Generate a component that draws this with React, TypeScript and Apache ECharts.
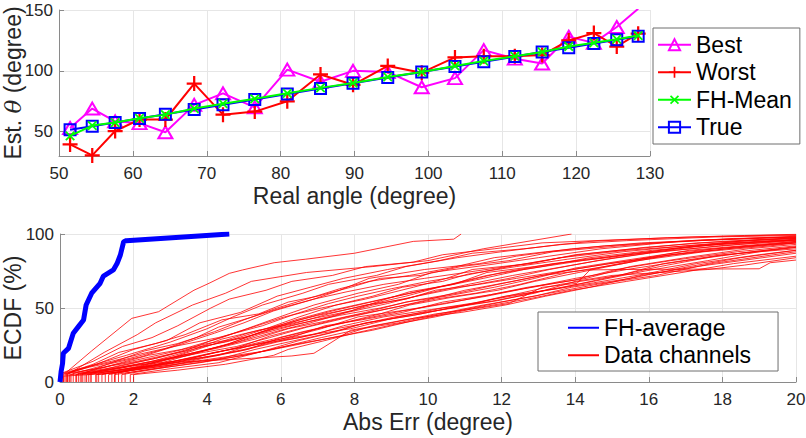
import React, { useEffect, useRef } from "react";
import * as echarts from "echarts";

// ---------- Top panel data ----------
const realAngle = [51.5, 54.5, 57.6, 60.9, 64.4, 68.3, 72.2, 76.5, 80.9, 85.4, 89.8, 94.5, 99.1, 103.6, 107.5, 111.7, 115.4, 119.0, 122.4, 125.5, 128.4];
const bestEst = [53, 69, 58.5, 57, 49.5, 72, 81.5, 70, 101, 91, 100, 99, 86.5, 94, 117, 110, 106, 128, 123, 136, 151];
const worstEst = [39.5, 30.5, 50.5, 60, 60, 89.5, 64, 66.5, 75, 97, 88.5, 104, 98.5, 111, 112, 112, 113, 125, 131, 120, 130.5];
const fhMeanEst = [46.5, 55, 57.5, 61, 64, 69, 73, 77, 81.5, 86, 90, 95, 99, 104, 108, 112, 115.5, 120, 123, 126, 129];
const trueAngle = [51.5, 54.5, 57.6, 60.9, 64.4, 68.3, 72.2, 76.5, 80.9, 85.4, 89.8, 94.5, 99.1, 103.6, 107.5, 111.7, 115.4, 119.0, 122.4, 125.5, 128.4];
const topYTicks = [50, 100, 150];

// ---------- Bottom panel data ----------
const fhAverageEcdf = [
  [0, 0], [0.03, 7], [0.07, 12.6], [0.09, 19.4], [0.23, 22.7], [0.36, 32.9], [0.5, 37.4], [0.64, 41.9],
  [0.71, 52], [0.86, 60], [1.09, 66.7], [1.18, 71.6], [1.45, 75.7], [1.55, 80], [1.64, 85.8], [1.73, 94.8],
  [1.8, 95.5], [4.6, 100],
];

const channelEcdfs = [
  [[0.1, 0], [0.1, 5], [0.86, 21], [1.95, 43], [2.68, 47.5], [3.64, 62], [4.05, 66.7], [4.6, 73.4], [4.96, 75.7], [5.82, 80.6], [6.68, 83], [8, 87], [8.8, 91], [9.6, 95], [10.7, 96.5], [10.9, 100]],
  [[0.2, 0], [0.2, 5], [1.2, 20], [2.1, 32], [2.6, 40], [3.6, 52], [4.5, 60], [5.2, 68], [6.7, 74], [8.5, 78], [10, 82], [11.5, 90], [13.9, 100]],
  [[0.05, 0], [0.05, 6], [0.9, 14], [1.7, 24], [2.5, 30], [3.2, 38], [4.1, 50], [4.6, 56], [5.6, 62], [6.3, 68], [7.4, 72], [8.3, 78], [9.6, 81], [10.4, 86], [11.8, 90], [13.1, 94], [15.0, 96], [17.2, 98], [20, 99.5]],
  [[0.14, 0], [0.14, 5], [1.0, 12], [2.0, 22], [2.9, 28], [3.8, 40], [4.9, 47], [5.9, 58], [6.8, 64], [7.7, 70], [8.9, 76], [10.3, 82], [11.2, 87], [12.6, 90], [14.4, 95], [16.5, 97.5], [18.6, 99], [20, 99.8]],
  [[0.21, 0], [0.21, 6], [1.1, 13], [1.8, 18], [3.0, 27], [4.0, 36], [4.7, 44], [5.5, 52], [6.6, 60], [7.3, 66], [8.6, 72], [9.4, 78], [10.8, 84], [12.0, 88], [13.6, 93], [15.4, 95.5], [17.8, 98], [20, 99]],
  [[0.27, 0], [0.27, 5], [1.3, 12], [2.2, 17], [3.1, 24], [4.2, 33], [5.0, 40], [5.8, 48], [6.9, 56], [7.6, 62], [8.4, 70], [9.9, 76], [11.4, 80], [12.4, 85], [13.9, 90], [15.8, 94], [17.7, 96], [20, 98.5]],
  [[0.36, 0], [0.36, 6], [1.2, 10], [2.4, 18], [3.3, 22], [4.4, 30], [5.3, 38], [6.2, 46], [6.9, 52], [8.1, 60], [9.2, 66], [10.1, 74], [11.6, 79], [13.0, 84], [14.7, 90], [16.4, 94], [18.3, 97], [20, 98]],
  [[0.43, 0], [0.43, 5], [1.4, 11], [2.1, 14], [3.4, 21], [4.1, 28], [5.1, 36], [6.1, 44], [7.1, 50], [8.3, 56], [9.6, 64], [10.5, 70], [11.2, 76], [12.8, 80], [14.0, 86], [15.6, 90], [17.3, 94], [19.1, 96], [20, 97.5]],
  [[0.5, 0], [0.5, 6], [1.5, 10], [2.6, 16], [3.6, 23], [4.5, 27], [5.6, 34], [6.5, 42], [7.4, 48], [8.8, 56], [9.9, 62], [11.0, 68], [12.0, 74], [13.4, 80], [14.9, 84], [16.9, 91], [18.4, 95], [20, 97]],
  [[0.59, 0], [0.59, 5], [1.6, 9], [2.3, 13], [3.5, 19], [4.7, 26], [5.4, 32], [6.3, 38], [7.6, 46], [8.5, 52], [9.7, 58], [10.9, 64], [12.2, 70], [13.3, 76], [14.6, 82], [16.0, 87], [17.9, 92], [20, 96]],
  [[0.68, 0], [0.68, 6], [1.7, 10], [2.8, 15], [3.9, 20], [4.8, 24], [5.7, 30], [6.7, 37], [7.9, 44], [9.0, 50], [10.2, 56], [11.3, 60], [12.5, 66], [13.8, 74], [15.3, 80], [16.6, 86], [18.9, 92], [20, 95]],
  [[0.77, 0], [0.77, 5], [1.8, 9], [2.7, 12], [3.7, 17], [4.6, 22], [5.8, 29], [6.6, 34], [7.7, 40], [8.7, 46], [9.5, 52], [10.6, 57], [11.9, 62], [12.9, 68], [14.1, 74], [15.7, 82], [17.5, 88], [19.3, 92], [20, 94]],
  [[0.85, 0], [0.85, 6], [1.9, 11], [3.1, 14], [4.3, 18], [5.2, 25], [6.4, 31], [7.2, 38], [8.2, 42], [9.3, 47], [10.4, 54], [11.7, 59], [12.7, 64], [14.3, 70], [15.5, 78], [17.0, 84], [18.7, 90], [20, 93]],
  [[0.97, 0], [0.97, 5], [2.0, 8], [3.2, 12], [4.4, 16], [5.3, 22], [6.2, 27], [7.3, 33], [8.0, 38], [9.1, 44], [10.7, 50], [11.8, 56], [13.2, 62], [14.5, 68], [15.9, 75], [17.6, 82], [19.0, 88], [20, 91]],
  [[1.05, 0], [1.05, 6], [2.1, 10], [3.0, 16], [4.0, 22], [5.0, 28], [6.0, 35], [6.8, 40], [7.8, 47], [8.9, 53], [10.0, 60], [11.1, 66], [12.3, 72], [13.7, 78], [15.1, 84], [16.8, 90], [18.2, 94], [20, 96.5]],
  [[1.14, 0], [1.14, 5], [2.0, 9], [3.3, 14], [4.2, 20], [5.5, 26], [6.5, 30], [7.5, 36], [8.6, 41], [9.8, 46], [11.0, 52], [12.1, 58], [13.5, 63], [14.8, 70], [16.3, 78], [17.8, 85], [19.5, 90], [20, 91.5]],
  [[1.23, 0], [1.23, 6], [2.2, 11], [3.1, 17], [4.1, 25], [5.1, 33], [5.9, 38], [7.0, 45], [8.0, 50], [9.4, 58], [10.3, 64], [11.5, 70], [12.6, 76], [14.2, 82], [15.6, 87], [17.4, 92], [19.2, 95], [20, 96]],
  [[1.32, 0], [1.32, 5], [2.4, 10], [3.5, 15], [4.9, 21], [5.9, 27], [6.9, 32], [7.7, 38], [8.8, 44], [10.1, 49], [11.4, 54], [12.5, 60], [13.6, 66], [15.2, 72], [16.4, 80], [18.0, 86], [20, 90]],
  [[1.41, 0], [1.41, 6], [2.5, 11], [3.6, 19], [4.6, 26], [5.6, 35], [6.4, 42], [7.3, 48], [8.4, 54], [9.5, 60], [10.6, 66], [11.6, 72], [13.1, 78], [14.4, 84], [16.1, 89], [17.9, 93], [20, 96]],
  [[1.48, 0], [1.48, 5], [2.6, 9], [3.8, 13], [5.0, 18], [6.1, 24], [7.1, 30], [8.2, 36], [9.2, 40], [10.3, 46], [11.5, 52], [12.9, 58], [13.9, 64], [15.5, 70], [17.1, 78], [18.5, 84], [20, 89]],
  [[1.59, 0], [1.59, 6], [2.7, 12], [3.9, 18], [4.8, 23], [5.7, 31], [6.8, 38], [7.8, 44], [9.0, 50], [9.9, 55], [11.0, 62], [12.3, 68], [13.5, 74], [14.9, 80], [16.7, 86], [18.1, 90], [20, 94]],
  [[1.68, 0], [1.68, 5], [2.9, 10], [4.0, 14], [5.2, 19], [6.3, 25], [7.4, 30], [8.5, 35], [9.7, 42], [10.8, 48], [12.0, 54], [13.3, 60], [14.6, 66], [16.2, 72], [17.7, 80], [19.4, 86], [20, 88]],
  [[1.77, 0], [1.77, 6], [2.8, 10], [3.9, 16], [5.1, 22], [6.0, 30], [7.0, 36], [8.1, 42], [9.3, 48], [10.5, 53], [11.7, 59], [12.8, 64], [14.0, 70], [15.4, 76], [17.0, 82], [18.8, 88], [20, 91]],
  [[1.91, 0], [1.91, 5], [3.0, 9], [4.3, 13], [5.4, 20], [6.5, 28], [7.5, 34], [8.3, 40], [9.6, 45], [10.6, 50], [11.9, 55], [13.0, 61], [14.5, 67], [15.9, 73], [17.3, 80], [19.0, 86], [20, 89]],
  [[2.0, 0], [2.0, 5], [3.2, 8], [4.5, 12], [5.8, 18], [6.2, 22], [7.2, 28], [8.0, 33], [9.1, 39], [10.2, 44], [11.3, 50], [12.7, 56], [13.9, 62], [15.4, 68], [16.9, 74], [18.3, 80], [20, 85]],
  [[0.1, 0], [0.1, 4], [1.5, 6], [3.3, 13.5], [5.2, 16], [6.3, 17.6], [6.9, 19.4], [7.2, 24], [7.9, 35], [9.0, 40], [10.2, 46], [11.4, 50], [12.2, 53], [13.1, 64], [14.05, 66.7], [14.4, 75.7], [15.2, 76], [19.0, 76.5], [19.3, 80.6], [20, 82.4]],
  [[0.3, 0], [0.3, 5], [1.7, 8], [3.4, 14], [5.0, 22], [6.3, 30], [7.9, 36], [9.2, 44], [10.4, 50], [11.6, 54], [12.9, 60], [14.0, 68], [15.0, 72], [16.3, 74], [17.6, 76], [18.6, 79], [20, 84]],
  [[0.18, 0], [0.18, 6], [0.9, 12], [1.6, 20], [2.6, 26], [3.4, 32], [4.4, 42], [5.4, 46], [6.2, 54], [7.0, 58], [7.9, 64], [8.7, 70], [9.8, 72], [10.9, 78], [12.2, 82], [13.4, 88], [15.2, 92], [17.4, 96], [20, 98]],
  [[0.04, 0], [0.04, 5], [0.8, 10], [1.9, 16], [2.8, 22], [3.7, 30], [4.3, 37], [5.1, 43], [6.0, 50], [6.9, 56], [7.8, 61], [8.8, 66], [9.9, 70], [11.3, 75], [12.7, 80], [14.1, 86], [15.9, 91], [18.0, 95], [20, 97.5]],
  [[0.25, 0], [0.25, 6], [1.0, 9], [2.1, 15], [3.0, 20], [4.0, 26], [5.0, 30], [6.0, 38], [6.9, 43], [7.9, 48], [8.6, 54], [9.5, 61], [10.7, 66], [11.6, 74], [12.9, 78], [14.3, 83], [16.2, 88], [18.5, 93], [20, 95.5]],
  [[0.45, 0], [0.45, 5], [1.3, 8], [2.3, 12], [3.5, 18], [4.5, 25], [5.5, 34], [6.6, 40], [7.6, 45], [8.7, 50], [9.6, 55], [10.8, 60], [12.1, 67], [13.1, 72], [14.4, 76], [16.0, 84], [17.8, 90], [20, 94.5]],
  [[0.62, 0], [0.62, 6], [1.4, 9], [2.5, 14], [3.4, 20], [4.4, 29], [5.4, 35], [6.3, 39], [7.3, 46], [8.3, 52], [9.4, 56], [10.2, 62], [11.4, 66], [12.4, 70], [13.9, 76], [15.5, 82], [17.1, 89], [19.0, 93], [20, 95]],
  [[0.72, 0], [0.72, 5], [1.9, 9], [2.9, 13], [4.0, 19], [5.1, 24], [6.0, 29], [7.1, 36], [8.1, 44], [9.5, 49], [10.4, 53], [11.6, 58], [12.6, 63], [14.0, 69], [15.1, 76], [16.6, 82], [18.4, 88], [20, 92]],
  [[0.82, 0], [0.82, 6], [1.6, 11], [2.6, 16], [3.6, 22], [4.6, 28], [5.6, 36], [6.5, 44], [7.5, 52], [8.5, 58], [9.3, 64], [10.4, 68], [11.1, 73], [12.4, 78], [13.8, 83], [15.3, 88], [17.0, 92], [18.9, 96], [20, 97]],
  [[1.0, 0], [1.0, 5], [2.3, 9], [3.4, 13], [4.5, 17], [5.6, 21], [6.6, 26], [7.6, 31], [8.5, 38], [9.6, 43], [10.9, 47], [12.1, 52], [13.2, 58], [14.4, 64], [15.8, 72], [17.3, 78], [19.1, 84], [20, 87]],
  [[1.5, 0], [1.5, 6], [2.5, 12], [3.3, 18], [4.3, 23], [5.3, 29], [6.2, 36], [7.2, 41], [8.3, 47], [9.4, 54], [10.5, 58], [11.8, 64], [12.9, 70], [14.0, 77], [15.3, 82], [16.9, 88], [18.7, 92], [20, 94]],
  [[0.55, 0], [0.55, 5], [1.4, 13], [2.3, 21], [3.2, 26], [4.2, 34], [5.0, 42], [5.9, 50], [6.7, 56], [7.6, 63], [8.4, 68], [9.5, 72], [10.6, 77], [11.8, 84], [13.2, 88], [14.8, 92], [16.8, 95], [19.0, 97], [20, 98]],
  [[0.08, 0], [0.08, 6], [0.7, 10], [1.4, 14], [2.2, 19], [3.1, 24], [4.3, 30], [5.5, 38], [6.4, 46], [7.3, 53], [8.1, 58], [9.0, 63], [10.0, 68], [11.0, 72], [12.2, 78], [13.6, 84], [15.4, 89], [17.6, 93], [20, 96]],
];

const FONT = "'Liberation Sans', Arial, Helvetica, sans-serif";
const AXIS_GRAY = "#8a8a8a";
const GRID_GRAY = "#e6e6e6";
const TXT = "#262626";

const plusPath = "path://M4.25,0 L5.75,0 L5.75,4.25 L10,4.25 L10,5.75 L5.75,5.75 L5.75,10 L4.25,10 L4.25,5.75 L0,5.75 L0,4.25 L4.25,4.25 Z";

function axisCommon() {
  return {
    axisLine: { show: true, lineStyle: { color: AXIS_GRAY, width: 1 } },
    axisTick: { show: true, inside: true, length: 5, lineStyle: { color: AXIS_GRAY } },
    axisLabel: { color: TXT, fontSize: 17, fontFamily: FONT },
    splitLine: { show: true, lineStyle: { color: GRID_GRAY, width: 1 } },
    nameTextStyle: { color: TXT, fontSize: 23, fontFamily: FONT },
  };
}

export default function App() {
  const ref = useRef<HTMLDivElement>(null);

  useEffect(() => {
    if (!ref.current) return;
    const chart = echarts.init(ref.current, undefined, { renderer: "svg" });

    const topX = realAngle;
    const pairs = (ys: number[]) => ys.map((y, i) => [topX[i], y]);

    const channelSeries = channelEcdfs.map((c) => ({
      name: "Data channels",
      type: "line",
      xAxisIndex: 1,
      yAxisIndex: 1,
      data: c,
      symbol: "none",
      silent: true,
      clip: true,
      color: "#ff0000",
      lineStyle: { color: "#ff0000", width: 0.8 },
      z: 2,
    }));

    const option: any = {
      animation: false,
      backgroundColor: "#ffffff",
      textStyle: { fontFamily: FONT },
      grid: [
        { left: 59, right: 156, top: 10, bottom: 282, containLabel: false, outerBoundsMode: "none" },
        { left: 60, right: 10, top: 234, bottom: 56, containLabel: false, outerBoundsMode: "none" },
      ],
      xAxis: [
        {
          ...axisCommon(),
          gridIndex: 0,
          type: "value",
          min: 50,
          max: 130,
          interval: 10,
          name: "Real angle (degree)",
          nameLocation: "middle",
          nameGap: 28,
          axisLabel: { color: TXT, fontSize: 17, fontFamily: FONT, margin: 9 },
        },
        {
          ...axisCommon(),
          gridIndex: 1,
          type: "value",
          min: 0,
          max: 20,
          interval: 2,
          name: "Abs Err (degree)",
          nameLocation: "middle",
          nameGap: 28,
          axisLabel: { color: TXT, fontSize: 17, fontFamily: FONT, margin: 9 },
        },
      ],
      yAxis: [
        {
          ...axisCommon(),
          gridIndex: 0,
          type: "value",
          min: 30,
          max: 150,
          axisTick: { show: true, inside: true, length: 5, lineStyle: { color: AXIS_GRAY }, customValues: topYTicks },
          axisLabel: { color: TXT, fontSize: 17, fontFamily: FONT, margin: 6, customValues: topYTicks },
          name: "{a|Est. }{b|θ}{a| (degree)}",
          nameLocation: "middle",
          nameGap: 35,
          nameRotate: 90,
          nameMoveOverlap: false,
          nameTextStyle: {
            color: TXT,
            fontSize: 23,
            fontFamily: FONT,
            rich: {
              a: { color: TXT, fontSize: 23, fontFamily: FONT },
              b: { color: TXT, fontSize: 23, fontFamily: "'DejaVu Serif', serif", fontStyle: "italic" },
            },
          },
        },
        {
          ...axisCommon(),
          gridIndex: 1,
          type: "value",
          min: 0,
          max: 100,
          interval: 50,
          name: "ECDF (%)",
          nameLocation: "middle",
          nameGap: 36,
          nameRotate: 90,
          nameMoveOverlap: false,
          axisLabel: { color: TXT, fontSize: 17, fontFamily: FONT, margin: 6 },
        },
      ],
      legend: [
        {
          data: ["Best", "Worst", "FH-Mean", "True"],
          orient: "vertical",
          left: 653,
          top: 28,
          padding: [3, 8, 3, 4],
          itemGap: 0,
          itemWidth: 33,
          itemHeight: 14,
          backgroundColor: "#ffffff",
          borderColor: "#6e6e6e",
          borderWidth: 1,
          selectedMode: false,
          textStyle: { color: "#000", fontSize: 23, fontFamily: FONT, lineHeight: 27.5 },
        },
        {
          data: [
            { name: "FH-average", itemStyle: { opacity: 0 } },
            { name: "Data channels", itemStyle: { opacity: 0 } },
          ],
          orient: "vertical",
          left: 538,
          top: 312,
          padding: [2, 27, 2, 29],
          itemGap: 0,
          itemWidth: 31,
          itemHeight: 14,
          backgroundColor: "#ffffff",
          borderColor: "#6e6e6e",
          borderWidth: 1,
          selectedMode: false,
          textStyle: { color: "#000", fontSize: 23, fontFamily: FONT, lineHeight: 27.5 },
        },
      ],
      series: [
        {
          name: "Best",
          type: "line",
          xAxisIndex: 0,
          yAxisIndex: 0,
          data: pairs(bestEst),
          symbol: "triangle",
          symbolSize: [14, 12],
          color: "#ff00ff",
          lineStyle: { color: "#ff00ff", width: 2 },
          itemStyle: { color: "rgba(255,255,255,0)", borderColor: "#ff00ff", borderWidth: 2 },
          z: 3,
        },
        {
          name: "Worst",
          type: "line",
          xAxisIndex: 0,
          yAxisIndex: 0,
          data: pairs(worstEst),
          symbol: plusPath,
          symbolSize: 15,
          color: "#ff0000",
          lineStyle: { color: "#ff0000", width: 2 },
          itemStyle: { color: "#ff0000" },
          z: 4,
        },
        {
          name: "True",
          type: "line",
          xAxisIndex: 0,
          yAxisIndex: 0,
          data: pairs(trueAngle),
          symbol: "rect",
          symbolSize: 11,
          color: "#0000ff",
          lineStyle: { color: "#0000ff", width: 2 },
          itemStyle: { color: "rgba(255,255,255,0)", borderColor: "#0000ff", borderWidth: 2 },
          z: 5,
        },
        {
          name: "FH-Mean",
          type: "line",
          xAxisIndex: 0,
          yAxisIndex: 0,
          data: pairs(fhMeanEst),
          symbol: plusPath,
          symbolRotate: 45,
          symbolSize: 12,
          color: "#00ff00",
          lineStyle: { color: "#00ff00", width: 2 },
          itemStyle: { color: "#00ff00" },
          z: 6,
        },
        ...channelSeries,
        {
          name: "FH-average",
          type: "line",
          xAxisIndex: 1,
          yAxisIndex: 1,
          data: fhAverageEcdf,
          symbol: "none",
          color: "#0000ff",
          lineStyle: { color: "#0000ff", width: 5 },
          z: 5,
        },
      ],
    };

    chart.setOption(option);
    return () => chart.dispose();
  }, []);

  return (
    <div
      ref={ref}
      style={{ position: "fixed", left: 0, top: 0, width: 806, height: 438, background: "#fff" }}
    />
  );
}
